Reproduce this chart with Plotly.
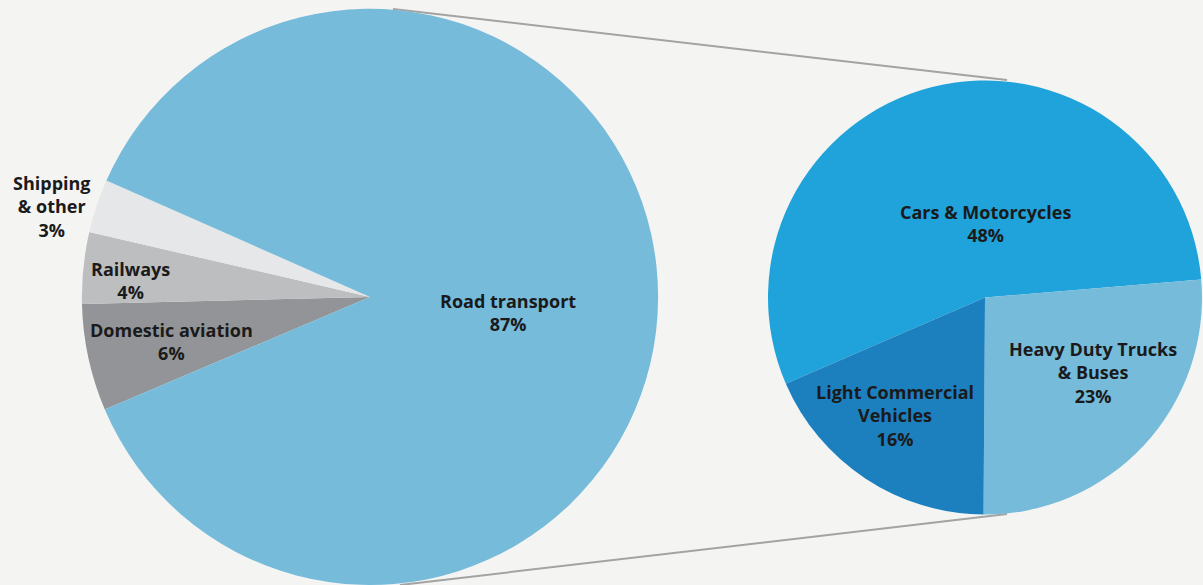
import plotly.graph_objects as go

W, H = 1203, 585

# Data
main_labels = ["Domestic aviation", "Railways", "Shipping & other", "Road transport"]
main_values = [6, 4, 3, 87]
main_colors = ["#929497", "#BDBEC0", "#E6E7E9", "#76BBDA"]

road_labels = ["Cars & Motorcycles", "Heavy Duty Trucks & Buses", "Light Commercial Vehicles"]
road_values = [48, 23, 16]
road_colors = ["#1FA3DA", "#76BBDA", "#1C80BF"]

# Label text (with line breaks) and pixel centres
main_text = ["Domestic aviation", "Railways", "Shipping<br>& other", "Road transport"]
main_pos = [(171, 341), (130, 280), (52, 206), (508, 312)]
road_text = ["Cars & Motorcycles", "Heavy Duty Trucks<br>& Buses", "Light Commercial<br>Vehicles"]
road_pos = [(986, 224), (1093, 372), (895, 415)]

fig = go.Figure()

fig.add_trace(go.Pie(
    labels=main_labels, values=main_values, sort=False, direction="clockwise",
    rotation=247, marker=dict(colors=main_colors, line=dict(width=0)),
    textinfo="none", hoverinfo="label+percent", showlegend=False,
    domain=dict(x=[80 / W, 660 / W], y=[0.0, 0.985]),
))
fig.add_trace(go.Pie(
    labels=road_labels, values=road_values, sort=False, direction="clockwise",
    rotation=246.6, marker=dict(colors=road_colors, line=dict(width=0)),
    textinfo="none", hoverinfo="label+value", showlegend=False,
    domain=dict(x=[768 / W, 1202 / W], y=[1 - 515 / H, 1 - 80 / H]),
))

font = dict(family="'Open Sans', Lato, sans-serif", size=18, color="#1a1a1a")
for txt, val, (px, py) in zip(main_text + road_text, main_values + road_values, main_pos + road_pos):
    fig.add_annotation(
        x=px / W, y=1 - py / H, xref="paper", yref="paper",
        text=f"<b>{txt}<br>{val}%</b>", showarrow=False, align="center",
        font=font, xanchor="center", yanchor="middle",
    )

# connector lines between the two pies
for (x0, y0, x1, y1) in [(393, 9, 1007, 80), (400, 585, 1007, 514)]:
    fig.add_shape(type="line", xref="paper", yref="paper",
                  x0=x0 / W, y0=1 - y0 / H, x1=x1 / W, y1=1 - y1 / H,
                  line=dict(color="#A3A3A3", width=2), layer="below")

fig.update_layout(
    width=W, height=H, margin=dict(l=0, r=0, t=0, b=0),
    paper_bgcolor="#F4F4F3", plot_bgcolor="#F4F4F3",
)

fig.write_html("out.html")
